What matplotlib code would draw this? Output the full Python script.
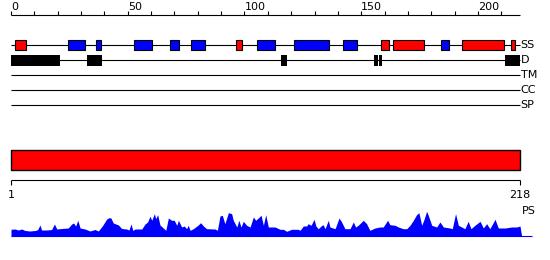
import numpy as np
import matplotlib.pyplot as plt
from matplotlib.patches import Rectangle

# sequence length and track names
seq_len = 218
tracks = ["SS", "D", "TM", "CC", "SP"]

# secondary structure segments (start, end) in residues
helix = [(1.5, 6.5), (96.5, 99), (158.5, 162), (163.5, 177), (193, 211), (214, 216)]
strand = [(24.5, 31.5), (36.5, 38.5), (52.5, 60.5), (68, 72), (77, 83),
          (105.5, 113), (121, 136), (142, 148), (184, 187.5)]

# disorder segments
disorder = [(0, 21), (32.5, 39), (115.5, 118), (155.3, 157.1), (157.6, 158.9), (211.5, 218)]

# PS profile (residue, value)
ps_pos = [0, 1.7, 3.1, 4.6, 6, 8.1, 10.3, 11.4, 12.4, 13.1, 15.3, 17.4, 18.6, 19.6,
          21.7, 24.5, 26, 26.8, 27.7, 28.6, 29.6, 31.7, 33.8, 36, 37.4, 39.1, 41, 42,
          42.8, 43.8, 46, 47.4, 49.5, 50.5, 51.4, 52.2, 53.1, 56, 57.4, 58.5, 59.5,
          60.3, 61.4, 62, 62.8, 63.8, 65.2, 66.3, 67.4, 68.8, 69.9, 71, 71.7, 73.1,
          74.2, 75.2, 75.9, 76.7, 78.1, 80.2, 81.2, 82.4, 83.8, 87.4, 88.4, 89.5,
          90.5, 91.6, 93.1, 94.5, 95.2, 96.7, 97.6, 98.5, 99.5, 100.9, 102.4, 103.8,
          104.8, 105.9, 107.1, 108.1, 109.1, 110.2, 113.1, 115.2, 116.6, 118.1,
          120.2, 123, 123.8, 125.2, 126.6, 127.3, 128.5, 129.8, 130.6, 131.6, 132.8,
          133.7, 134.5, 135.9, 136.6, 138.8, 140.5, 141.6, 143, 145.2, 146.6, 147.6,
          148.7, 150.9, 152.3, 153.7, 155.9, 158, 159.4, 161.3, 162.3, 164.5, 165.9,
          168, 169.5, 170.9, 172.3, 173.7, 174.7, 175.9, 177, 178, 178.7, 180.2,
          182.3, 183.7, 185.2, 188, 189, 190.4, 191.6, 193, 194.4, 195.8, 197, 198.7,
          200.9, 202.3, 203.7, 205.1, 207.3, 208.7, 211.6, 214.4, 216.6, 218, 218.7]
ps_val = [6.7, 7, 6, 7, 5.5, 5, 5.5, 6.3, 11, 6, 6, 6.5, 12, 7,
          7.5, 8, 12, 13, 10, 15.7, 8, 7, 5, 6.5, 5, 10, 17, 18.3,
          18, 13, 11, 7.5, 7, 6, 12, 5.5, 7, 7, 12, 14, 19.7,
          15.7, 22.3, 17.3, 21.3, 11, 8, 5.7, 18, 15.7, 15.7, 10.7, 15.7, 9,
          10, 7.3, 10.7, 5.7, 7.3, 11, 13.3, 10, 7.3, 7, 5.7, 20,
          20.7, 12.3, 23.3, 22.3, 15.7, 9, 15.7, 9, 14.7, 10.7, 9, 19,
          15.7, 18, 20.7, 10.7, 21.3, 9, 9, 6.7, 6.7, 4.7,
          6.7, 6.7, 5.7, 10, 10, 12.3, 10.7, 16.7, 10, 7.3, 10,
          11.3, 7.3, 15.7, 9, 7.3, 18, 14, 7.3, 7.3, 14, 9,
          10.7, 15.7, 12.3, 5.7, 8, 9, 9, 15.7, 11.3, 10.7, 9,
          7.3, 7.3, 10.7, 15.7, 21.3, 23.3, 10.7, 17.3, 24.7, 20.7, 10.7,
          9, 14, 9, 8, 7.3, 22.3, 10.7, 9, 7.3, 14.7, 7.3, 10.7,
          14.7, 8, 12.3, 7.3, 16.7, 8, 8, 9, 9, 10, 0]

# scale: residue 0 at x=11 px, 218 at x=520 px
s = 509 / seq_len
xlim = (-11 / s, 539 / s)

fig = plt.figure(figsize=(5.5, 2.6), dpi=100)
ax = fig.add_axes([0, 0, 1, 1])
ax.set_xlim(*xlim)
ax.set_ylim(260, 0)
ax.axis('off')

# top ruler
ax.hlines(15, 0, seq_len, color='black', lw=0.8)
ticks = np.arange(0, seq_len, 10)
ax.vlines(ticks, 10.5, 15, color='black', lw=0.8)
for t in ticks[::5]:
    ax.text(t, 10.5, str(t), ha='left', va='baseline', fontsize=8)

# tracks
for i, name in enumerate(tracks):
    y = 45 + 15 * i
    ax.hlines(y, 0, seq_len, color='black', lw=0.8, zorder=1)
    ax.text(seq_len + 0.3, y, name, ha='left', va='center', fontsize=8)

for a, b in helix:
    ax.add_patch(Rectangle((a, 40), b - a, 10, facecolor='#ff0000', edgecolor='black', lw=0.8, zorder=2))
for a, b in strand:
    ax.add_patch(Rectangle((a, 40), b - a, 10, facecolor='#0000ff', edgecolor='black', lw=0.8, zorder=2))
for a, b in disorder:
    ax.add_patch(Rectangle((a, 55), b - a, 10.5, facecolor='black', edgecolor='none', zorder=2))

# domain bar
ax.add_patch(Rectangle((0, 150.3), seq_len, 20, facecolor='#ff0000', edgecolor='black', lw=1))

# bottom ruler
ax.hlines(180.3, 0, seq_len, color='black', lw=0.8)
ax.vlines([0, seq_len], 180.3, 185, color='black', lw=0.8)
ax.text(0, 195.5, "1", ha='center', va='center', fontsize=8)
ax.text(seq_len, 195.5, str(seq_len), ha='center', va='center', fontsize=8)
ax.text(seq_len + 0.6, 210.5, "PS", ha='left', va='center', fontsize=8)

# PS profile on its own axes, 1 unit = 1 px, baseline at y=236
ax2 = fig.add_axes([0, 0, 1, 1])
ax2.set_xlim(*xlim)
ax2.set_ylim(-24, 236)
ax2.axis('off')
ax2.fill_between(ps_pos, 0, ps_val, color='#0000ff', lw=0)
ax2.hlines(0.3, 0, 223, color='#0000ff', lw=0.8)

fig.savefig('out.png', dpi=100)
